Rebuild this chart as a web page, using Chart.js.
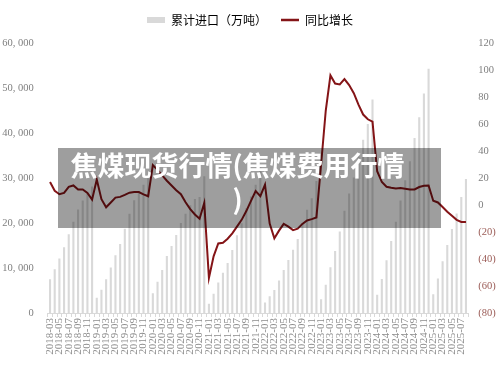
<!DOCTYPE html>
<html>
<head>
<meta charset="utf-8">
<script src="https://cdn.jsdelivr.net/npm/chart.js@4.4.1/dist/chart.umd.min.js"></script>
<style>
    html, body { margin: 0; padding: 0; background: #ffffff; }
    #wrap { position: relative; width: 500px; height: 377px; }
    #overlay {
        position: absolute; left: 58px; top: 148px; width: 383px; height: 80px;
        background: rgba(0, 0, 0, 0.38);
    }
    #overlay .txt {
        padding-right: 24px;
        color: #ffffff; text-align: center;
        font-family: "Noto Sans CJK SC", sans-serif; font-weight: 700;
        font-size: 27px; line-height: 34px;
    }
</style>
</head>
<body>
<div id="wrap">
    <canvas id="myChart" width="500" height="377"></canvas>
    <div id="overlay"><div class="txt">焦煤现货行情(焦煤费用行情<br>)</div></div>
</div>
<script>
// months on the x axis
const months = [
    "2018-03","2018-04","2018-05","2018-06","2018-07","2018-08","2018-09","2018-10","2018-11","2018-12",
    "2019-01","2019-02","2019-03","2019-04","2019-05","2019-06","2019-07","2019-08","2019-09","2019-10","2019-11","2019-12",
    "2020-01","2020-02","2020-03","2020-04","2020-05","2020-06","2020-07","2020-08","2020-09","2020-10","2020-11","2020-12",
    "2021-01","2021-02","2021-03","2021-04","2021-05","2021-06","2021-07","2021-08","2021-09","2021-10","2021-11","2021-12",
    "2022-01","2022-02","2022-03","2022-04","2022-05","2022-06","2022-07","2022-08","2022-09","2022-10","2022-11","2022-12",
    "2023-01","2023-02","2023-03","2023-04","2023-05","2023-06","2023-07","2023-08","2023-09","2023-10","2023-11","2023-12",
    "2024-01","2024-02","2024-03","2024-04","2024-05","2024-06","2024-07","2024-08","2024-09","2024-10","2024-11","2024-12",
    "2025-01","2025-02","2025-03","2025-04","2025-05","2025-06","2025-07","2025-08"
];

// 累计进口（万吨）
const imports2018 = [7500, 9700, 12100, 14600, 17500, 20300, 23000, 25000, 26500, 28100];
const imports2019 = [3400, 5150, 7480, 10090, 12840, 15360, 18700, 22030, 25060, 27080, 28490, 29970];
const imports2020 = [4410, 6960, 9580, 12680, 14880, 17360, 20010, 22080, 23950, 25320, 25800, 30400];
const imports2021 = [2050, 4300, 6790, 8950, 11130, 14000, 17300, 19950, 23260, 25900, 28500, 32320];
const imports2022 = [2360, 3710, 5110, 7250, 9570, 11760, 14080, 16460, 20000, 22920, 25500, 29320];
const imports2023 = [3060, 6300, 10170, 13770, 18120, 22720, 26580, 30090, 34860, 38480, 42000, 47440];
const imports2024 = [4060, 7540, 11700, 16000, 20300, 25000, 29500, 33700, 38900, 43500, 48800, 54270];
const imports2025 = [4180, 7680, 11520, 15120, 18680, 22100, 25800, 29800];

// 同比增长（%）
const yoy2018 = [17, 10.5, 8, 9, 13.5, 14.5, 11.5, 11.5, 9, 4];
const yoy2019 = [18.8, 4.3, -1.7, 1.9, 5.5, 6, 7.5, 9.1, 9.6, 9.6, 7.9, 6.5];
const yoy2020 = [29.6, 26, 22, 18, 14.5, 11, 8, 2, -3, -7, -10.2, 1.5];
const yoy2021 = [-54, -38, -28.5, -28, -25, -21, -16, -11, -4.5, 3, 10.4, 6.6];
const yoy2022 = [15.1, -13.8, -24.7, -19, -14, -16, -18.6, -17.5, -14, -11.5, -10.5, -9.2];
const yoy2023 = [30, 70, 96, 90, 89.3, 93.2, 88.8, 82.8, 74.3, 67, 63.5, 61.8];
const yoy2024 = [25, 17, 13.5, 12.8, 12.3, 12.5, 12, 11.5, 11.5, 13.3, 14.2, 14.4];
const yoy2025 = [3.1, 1.9, -1.5, -5, -8, -11, -12.5, -12.5];

const leftTicks = [0, 10000, 20000, 30000, 40000, 50000, 60000];
const rightTicks = [-80, -60, -40, -20, 0, 20, 40, 60, 80, 100, 120];

const imports = [].concat(imports2018, imports2019, imports2020, imports2021, imports2022, imports2023, imports2024, imports2025);
const yoy = [].concat(yoy2018, yoy2019, yoy2020, yoy2021, yoy2022, yoy2023, yoy2024, yoy2025);

const numFont = "'Liberation Serif', serif";
const barColor = '#d9d9d9';
const lineColor = '#841417';

// push the plot area down a little below the legend
const legendGap = {
    id: 'legendGap',
    beforeInit(chart) {
        const fit = chart.legend.fit;
        chart.legend.fit = function () {
            fit.bind(chart.legend)();
            this.height += 7;
        };
    }
};

new Chart(document.getElementById('myChart'), {
    data: {
        labels: months,
        datasets: [
            {
                type: 'line',
                label: '同比增长',
                data: yoy,
                yAxisID: 'y1',
                borderColor: lineColor,
                backgroundColor: lineColor,
                borderWidth: 2,
                pointRadius: 0,
                tension: 0,
                order: 0
            },
            {
                type: 'bar',
                label: '累计进口（万吨）',
                data: imports,
                yAxisID: 'y',
                backgroundColor: barColor,
                barPercentage: 0.45,
                categoryPercentage: 1,
                order: 1
            }
        ]
    },
    options: {
        responsive: false,
        animation: false,
        layout: { padding: { top: 0, bottom: 14, left: 0, right: 0 } },
        plugins: {
            tooltip: { enabled: false },
            legend: {
                position: 'top',
                labels: {
                    usePointStyle: true,
                    pointStyleWidth: 18,
                    boxHeight: 6,
                    padding: 14,
                    color: '#595959',
                    font: { family: "'Noto Sans CJK SC', sans-serif", size: 12 },
                    generateLabels: function () {
                        return [
                            { text: '累计进口（万吨）', fillStyle: barColor, strokeStyle: barColor, lineWidth: 0, pointStyle: 'rect', datasetIndex: 1 },
                            { text: '同比增长', fillStyle: lineColor, strokeStyle: lineColor, lineWidth: 2.5, pointStyle: 'line', datasetIndex: 0 }
                        ];
                    }
                }
            }
        },
        scales: {
            x: {
                grid: { display: true, drawOnChartArea: false, drawTicks: true, tickLength: 4, color: '#d9d9d9' },
                border: { display: true, color: '#d9d9d9' },
                ticks: {
                    autoSkip: false,
                    minRotation: 90,
                    maxRotation: 90,
                    padding: 1,
                    color: '#8c8c8c',
                    font: { family: numFont, size: 11 },
                    callback: function (value, index) {
                        return index % 2 === 0 ? this.getLabelForValue(value) : '';
                    }
                },
                afterFit: function (scale) { scale.height = 50; }
            },
            y: {
                position: 'left',
                min: leftTicks[0],
                max: leftTicks[leftTicks.length - 1],
                grid: { display: false, drawTicks: false },
                border: { display: false },
                afterBuildTicks: function (scale) {
                    scale.ticks = leftTicks.map(v => ({ value: v }));
                },
                ticks: {
                    padding: 14,
                    color: '#7f7f7f',
                    font: { family: numFont, size: 10.5 },
                    callback: function (value) {
                        if (value === 0) return '0';
                        const s = String(value);
                        return s.slice(0, s.length - 3) + ', ' + s.slice(-3);
                    }
                },
                afterFit: function (scale) { scale.width = 47.7; }
            },
            y1: {
                position: 'right',
                min: rightTicks[0],
                max: rightTicks[rightTicks.length - 1],
                grid: { display: false, drawTicks: false },
                border: { display: false },
                afterBuildTicks: function (scale) {
                    scale.ticks = rightTicks.map(v => ({ value: v }));
                },
                ticks: {
                    padding: 10,
                    font: { family: numFont, size: 10.5 },
                    color: function (c) { return c.tick && c.tick.value < 0 ? '#9a5a55' : '#7f7f7f'; },
                    callback: function (value) {
                        return value < 0 ? '(' + (-value) + ')' : String(value);
                    }
                },
                afterFit: function (scale) { scale.width = 31.7; }
            }
        }
    },
    plugins: [legendGap]
});
</script>
</body>
</html>
